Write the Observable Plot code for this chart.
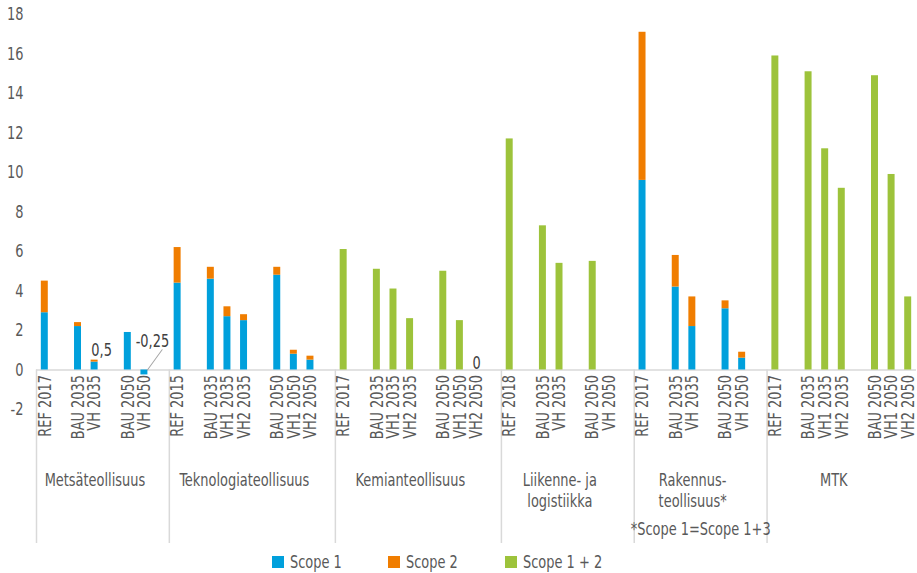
<!DOCTYPE html>
<html>
<head>
<meta charset="utf-8">
<script src="https://cdn.jsdelivr.net/npm/d3@7"></script>
<script src="https://cdn.jsdelivr.net/npm/@observablehq/plot@0.6"></script>
<style>
  html, body { margin: 0; padding: 0; background: #fff; }
  #chart { width: 917px; }
  .legend { position: relative; width: 917px; height: 25px; font-family: 'Liberation Sans Narrow', 'DejaVu Sans Condensed', sans-serif; font-size: 18px; color: #595959; }
  .legend .item { position: absolute; top: 3px; display: flex; align-items: center; }
  .legend .sw { width: 12px; height: 12px; margin-right: 6px; }
  .legend .tx { display: inline-block; transform: scaleX(0.8); transform-origin: left center; white-space: nowrap; }
</style>
</head>
<body>
<div id="chart"></div>
<script>
// ---------- data ----------
const groupNames = ["Metsäteollisuus", "Teknologiateollisuus", "Kemianteollisuus", "Liikenne- ja\nlogistiikka", "Rakennus-\nteollisuus*", "MTK"];
const footnote = "*Scope 1=Scope 1+3";
const seriesNames = ["Scope 1", "Scope 2", "Scope 1 + 2"];
const seriesColors = ["#00A0DC", "#F07D00", "#9DC33B"];

const metsaCats   = ["REF 2017", "", "BAU 2035", "VH 2035", "", "BAU 2050", "VH 2050", ""];
const metsaScope1 = [2.9, null, 2.2, 0.4, null, 1.9, -0.25, null];
const metsaScope2 = [1.6, null, 0.2, 0.1, null, null, null, null];

const teknoCats   = ["REF 2015", "", "BAU 2035", "VH1 2035", "VH2 2035", "", "BAU 2050", "VH1 2050", "VH2 2050", ""];
const teknoScope1 = [4.4, null, 4.6, 2.7, 2.5, null, 4.8, 0.8, 0.5, null];
const teknoScope2 = [1.8, null, 0.6, 0.5, 0.3, null, 0.4, 0.2, 0.2, null];

const kemiaCats    = ["REF 2017", "", "BAU 2035", "VH1 2035", "VH2 2035", "", "BAU 2050", "VH1 2050", "VH2 2050", ""];
const kemiaScope12 = [6.1, null, 5.1, 4.1, 2.6, null, 5.0, 2.5, 0, null];

const liikenneCats    = ["REF 2018", "", "BAU 2035", "VH 2035", "", "BAU 2050", "VH 2050", ""];
const liikenneScope12 = [11.7, null, 7.3, 5.4, null, 5.5, null, null];

const rakennusCats   = ["REF 2017", "", "BAU 2035", "VH 2035", "", "BAU 2050", "VH 2050", ""];
const rakennusScope1 = [9.6, null, 4.2, 2.2, null, 3.1, 0.6, null];
const rakennusScope2 = [7.5, null, 1.6, 1.5, null, 0.4, 0.3, null];

const mtkCats    = ["REF 2017", "", "BAU 2035", "VH1 2035", "VH2 2035", "", "BAU 2050", "VH1 2050", "VH2 2050"];
const mtkScope12 = [15.9, null, 15.1, 11.2, 9.2, null, 14.9, 9.9, 3.7];

const yTicks = [-2, 0, 2, 4, 6, 8, 10, 12, 14, 16, 18];

// data labels: [group index, slot index, text]
const labelGroups = [0, 0, 2];
const labelSlots  = [3, 6, 8];
const labelTexts  = ["0,5", "-0,25", "0"];

// ---------- build tables ----------
const groupCats = [metsaCats, teknoCats, kemiaCats, liikenneCats, rakennusCats, mtkCats];
const groupS1  = [metsaScope1, teknoScope1, null, null, rakennusScope1, null];
const groupS2  = [metsaScope2, teknoScope2, null, null, rakennusScope2, null];
const groupS12 = [null, null, kemiaScope12, liikenneScope12, null, mtkScope12];

const slots = [];
const rows = [];
const groupInfo = [];
groupCats.forEach((cats, g) => {
  groupInfo.push({g, name: groupNames[g], first: `${g}|0`, n: cats.length});
  cats.forEach((c, i) => {
    const key = `${g}|${i}`;
    slots.push({key, label: c});
    [groupS1[g], groupS2[g], groupS12[g]].forEach((arr, s) => {
      if (arr && arr[i] != null) rows.push({key, series: seriesNames[s], value: arr[i]});
    });
  });
});
const keys = slots.map(d => d.key);

const labels = labelTexts.map((t, i) => {
  const g = labelGroups[i], s = labelSlots[i];
  const key = `${g}|${s}`;
  const tot = rows.filter(r => r.key === key && r.value > 0).reduce((a, r) => a + r.value, 0);
  return {key, text: t, top: tot};
});

// ---------- layout ----------
const width = 917, height = 548;
const marginLeft = 36, marginRight = 1, marginTop = 14, marginBottom = 139;
const step = (width - marginLeft - marginRight) / keys.length;
const font = "'Liberation Sans Narrow', 'DejaVu Sans Condensed', sans-serif";
const textGray = "#595959";
const lineGray = "#D9D9D9";
const fs = 18;          // font size
const squeeze = 0.8;    // horizontal condensing of text

const marks = [
  Plot.ruleY([0], {stroke: lineGray, strokeWidth: 1.5}),
  Plot.ruleX(groupInfo, {x: "first", dx: -step / 2, y1: 0, y2: -2, insetBottom: -134, stroke: lineGray, strokeWidth: 1.5}),
  Plot.barY(rows, Plot.stackY({x: "key", y: "value", fill: "series", order: seriesNames})),
  Plot.axisY({ticks: yTicks, tickSize: 0, tickPadding: 13, label: null, fontSize: fs, fill: textGray, tickFormat: d => String(d)}),
  Plot.text(slots.filter(d => d.label), {x: "key", y: 0, text: "label", rotate: -90, textAnchor: "end", dy: 5, fontSize: fs, fill: textGray}),
  Plot.text(labels.filter(d => d.text === "0,5"), {x: "key", y: "top", text: "text", dx: 7, dy: -10, fontSize: fs, fill: "#404040"}),
  Plot.text(labels.filter(d => d.text === "-0,25"), {x: "key", y: 0, text: "text", dx: 8, dy: -29, fontSize: fs, fill: "#404040"}),
  Plot.text(labels.filter(d => d.text === "0"), {x: "key", y: 0, text: "text", dy: -7, fontSize: fs, fill: "#404040"}),
  Plot.vector(labels.filter(d => d.text === "-0,25"), {x: "key", y: 0, dx: 3, length: 25, rotate: 36, anchor: "start", stroke: "#A6A6A6", strokeWidth: 1,
    shape: {draw(ctx, l) { ctx.moveTo(0, 0); ctx.lineTo(0, -l); }}})
];

groupInfo.forEach(gi => {
  marks.push(Plot.text([gi], {x: "first", frameAnchor: "bottom", text: "name", dx: (gi.n - 1) * step / 2 - 8, dy: 61,
    lineAnchor: "top", lineHeight: 1.2, fontSize: fs, fill: textGray}));
});
const rak = groupInfo[4];
marks.push(Plot.text([footnote], {x: () => rak.first, frameAnchor: "bottom", text: d => d, dx: (rak.n - 1) * step / 2, dy: 113,
  lineAnchor: "top", fontSize: fs, fill: textGray}));

const chart = Plot.plot({
  width, height, marginLeft, marginRight, marginTop, marginBottom,
  style: {fontFamily: font, background: "#fff", overflow: "visible"},
  x: {domain: keys, axis: null, paddingInner: 0.58, paddingOuter: 0.29},
  y: {domain: [-2, 18], axis: null},
  color: {domain: seriesNames, range: seriesColors},
  marks
});

// condense all text horizontally around its anchor point
chart.querySelectorAll("text").forEach(t => {
  const tr = t.getAttribute("transform") || "";
  const x = +t.getAttribute("x") || 0;
  t.setAttribute("transform", `${tr} translate(${x},0) scale(${squeeze},1) translate(${-x},0)`.trim());
});
document.getElementById("chart").appendChild(chart);

// legend
const legend = document.createElement("div");
legend.className = "legend";
const legendLefts = [272, 388, 505];
seriesNames.forEach((s, i) => {
  const it = document.createElement("div");
  it.className = "item";
  it.style.left = legendLefts[i] + "px";
  it.innerHTML = `<span class="sw" style="background:${seriesColors[i]}"></span><span class="tx">${s}</span>`;
  legend.appendChild(it);
});
document.body.appendChild(legend);
</script>
</body>
</html>
